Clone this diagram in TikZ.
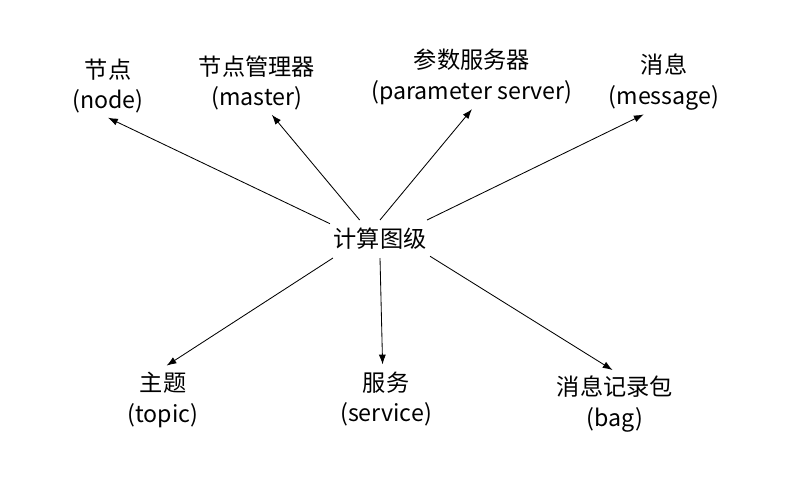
\documentclass[tikz,border=0pt]{standalone}
\usepackage{fontspec}
\setmainfont{Noto Sans CJK SC}
\usepackage{tikz}
\usetikzlibrary{arrows.meta}

\begin{document}
\begin{tikzpicture}[x=0.025cm,y=-0.025cm,>={Latex[length=7pt,width=5pt]},
	every node/.style={font=\fontsize{16.5}{22}\selectfont,align=center,inner sep=0pt,outer sep=3pt},
	hub/.style={minimum width=2.5cm,minimum height=0.95cm,outer sep=0pt},
	every edge/.style={draw,line width=0.6pt}]
	\useasboundingbox (0,0) rectangle (792,481);

	\node[hub] (n_graph) at (380,239) {计算图级};

	\node (n_node)    at (108,86)  {节点\\(node)};
	\node (n_master)  at (257,83)  {节点管理器\\(master)};
	\node (n_param)   at (472,77)  {参数服务器\\(parameter server)};
	\node (n_msg)     at (664,82)  {消息\\(message)};
	\node (n_topic)   at (163,400) {主题\\(topic)};
	\node (n_service) at (386,399) {服务\\(service)};
	\node (n_bag)     at (615,404) {消息记录包\\(bag)};

	\path[->]
	(n_graph.163)   edge (n_node.south)
	(n_graph.137)   edge (n_master.-65)
	(n_graph.north) edge (n_param.south)
	(n_graph.22)    edge (n_msg.238)
	(n_graph.202)   edge [shorten >=3pt] (n_topic.north)
	(n_graph.south) edge [shorten >=2pt] (n_service.96)
	(n_graph.-19)   edge [shorten >=2pt] (n_bag.north);
\end{tikzpicture}
\end{document}
